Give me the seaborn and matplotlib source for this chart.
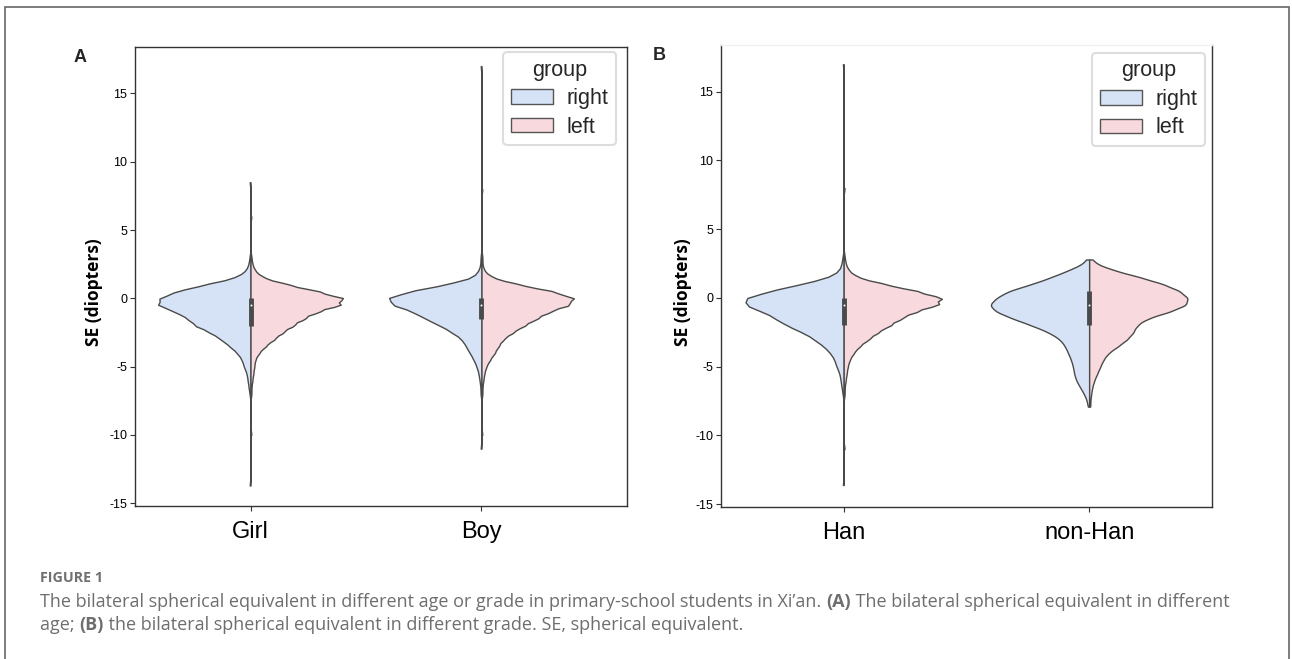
import numpy as np
import pandas as pd
import matplotlib
matplotlib.use("Agg")
import matplotlib.pyplot as plt
import seaborn as sns
from matplotlib.patches import Rectangle, Patch

# SE grid (diopters) and how many eyes sit at each value
se_grid = [-8.0, -7.5, -7.0, -6.5, -6.0, -5.5, -5.0, -4.5, -4.0, -3.5, -3.0, -2.5,
           -2.0, -1.5, -1.0, -0.5, 0.0, 0.5, 1.0, 1.5, 2.0, 2.5, 3.0]

girl_right = [0, 0, 1, 2, 3, 4, 7, 9, 14, 22, 31, 42, 58, 65, 78, 97, 95, 78, 48, 16, 5, 2, 1]
girl_left = [0, 0, 1, 1, 2, 3, 4, 5, 9, 16, 25, 34, 45, 56, 70, 94, 98, 72, 40, 14, 5, 2, 1]
boy_right = [0, 0, 1, 1, 2, 3, 5, 8, 12, 16, 20, 30, 42, 57, 69, 90, 97, 74, 37, 9, 3, 1, 1]
boy_left = [0, 0, 1, 1, 2, 3, 5, 9, 14, 18, 23, 33, 45, 58, 71, 92, 98, 76, 40, 12, 3, 1, 1]
han_right = [0, 0, 1, 2, 3, 4, 7, 9, 13, 20, 29, 40, 56, 66, 79, 97, 96, 72, 42, 14, 4, 2, 1]
han_left = [0, 0, 1, 1, 2, 3, 4, 6, 10, 16, 25, 34, 46, 57, 71, 94, 98, 73, 41, 14, 5, 2, 1]
nonhan_right = [0, 2, 5, 9, 13, 15, 16, 18, 21, 24, 29, 40, 57, 76, 93, 100, 92, 81, 57, 38, 21, 5, 0]
nonhan_left = [0, 1, 2, 3, 5, 8, 11, 14, 19, 29, 38, 44, 47, 57, 80, 97, 98, 90, 74, 51, 25, 6, 0]

# extreme eyes at the ends of the long tails (max, min)
girl_right_ext = [8.5, -13.7]
girl_left_ext = [6.0, -10.0]
boy_right_ext = [17.0, -11.0]
boy_left_ext = [8.0, -10.0]
han_right_ext = [17.0, -13.6]
han_left_ext = [8.0, -11.0]
nonhan_right_ext = [2.8, -7.9]
nonhan_left_ext = [2.8, -7.9]

sex_order = ["Girl", "Boy"]
nation_order = ["Han", "non-Han"]
groups = ["right", "left"]


def build(cat, side, counts, extra):
    vals = np.concatenate([np.repeat(se_grid, counts), extra])
    return pd.DataFrame({"cat": cat, "group": side, "SE": vals})


df_a = pd.concat([
    build("Girl", "right", girl_right, girl_right_ext),
    build("Girl", "left", girl_left, girl_left_ext),
    build("Boy", "right", boy_right, boy_right_ext),
    build("Boy", "left", boy_left, boy_left_ext),
])
df_b = pd.concat([
    build("Han", "right", han_right, han_right_ext),
    build("Han", "left", han_left, han_left_ext),
    build("non-Han", "right", nonhan_right, nonhan_right_ext),
    build("non-Han", "left", nonhan_left, nonhan_left_ext),
])

sns.set_style("ticks")
plt.rcParams['font.family'] = ['Liberation Sans', 'DejaVu Sans']
plt.rcParams['axes.unicode_minus'] = False

palette = {"right": "#d6e3f6", "left": "#f8d9dd"}

fig = plt.figure(figsize=(12.92, 6.59), dpi=100)
ax_a = fig.add_axes([0.1045, 0.2322, 0.3808, 0.6965])
ax_b = fig.add_axes([0.5580, 0.2307, 0.3800, 0.7010])

for ax, df, order in [(ax_a, df_a, sex_order), (ax_b, df_b, nation_order)]:
    sns.violinplot(data=df, x="cat", y="SE", hue="group", order=order, hue_order=groups,
                   split=True, inner=None, palette=palette, saturation=1,
                   linecolor="#4a4a4a", linewidth=1, density_norm="width", cut=0,
                   bw_method=0.15, ax=ax, legend=False)
    # single interquartile bar with median dot in the middle of each split violin
    for i, c in enumerate(order):
        v = df.loc[df["cat"] == c, "SE"]
        q1, med, q3 = np.percentile(v, [25, 50, 75])
        ax.vlines(i, q1, q3, color="#4a4a4a", lw=3.5, zorder=3)
        ax.scatter([i], [med], s=2, color="white", zorder=4, linewidths=0)
    ax.set_ylim(-15.2, 18.4)
    ax.set_yticks([-15, -10, -5, 0, 5, 10, 15])
    ax.set_xlabel("")
    ax.set_ylabel("SE (diopters)", family="Open Sans", fontweight="bold", fontsize=12.5,
                  color="black")
    ax.tick_params(axis="y", labelsize=9, length=3.5, width=0.8, color="#333333", pad=2,
                   labelcolor="black")
    ax.tick_params(axis="x", labelsize=17, length=3.5, width=0.8, color="#333333", pad=7,
                   labelcolor="black")
    for s in ax.spines.values():
        s.set_color("#333333")
        s.set_linewidth(1)
    handles = [Patch(facecolor=palette[g], edgecolor="#555555", linewidth=1, label=g) for g in groups]
    leg = ax.legend(handles=handles, title="group", fontsize=15.5, title_fontsize=15.5,
                    loc="upper right", handlelength=1.95, handleheight=0.65, handletextpad=0.65,
                    labelspacing=0.35, borderpad=0.35, borderaxespad=0, frameon=True,
                    fancybox=True, edgecolor="#dddddd", framealpha=1)
    leg.get_frame().set_linewidth(1.5)

ax_a.set_xlim(-0.5, 1.63)
ax_b.set_xlim(-0.5, 1.5)
ax_a.yaxis.set_label_coords(-0.065, 0.466)
ax_b.yaxis.set_label_coords(-0.059, 0.466)
ax_a.get_legend().set_bbox_to_anchor((0.978, 0.989))
ax_b.get_legend().set_bbox_to_anchor((0.986, 0.983))
ax_b.spines["top"].set_color("#f2f2f2")

fig.text(0.062, 0.9135, "A", fontsize=13, fontweight="bold", ha="center", va="center")
fig.text(0.510, 0.9165, "B", fontsize=13, fontweight="bold", ha="center", va="center")

# outer frame of the figure panel
fig.add_artist(Rectangle((5 / 1292, -0.02), 1284 / 1292, 1 - 7 / 659 + 0.02,
                         transform=fig.transFigure, fill=False, edgecolor="#666666", lw=1.2))

# caption
cap_color = "#6e6e6e"
fig.text(40 / 1292, 1 - 578 / 659, "FIGURE 1", family="Open Sans", fontweight="bold",
         fontsize=10.3, color="#707070", va="center", ha="left")

renderer = fig.canvas.get_renderer()


def rich_line(x, y, parts, size=13):
    for txt, weight in parts:
        t = fig.text(x, y, txt, family="Open Sans", fontweight=weight, fontsize=size,
                     color=cap_color, va="center", ha="left")
        bb = t.get_window_extent(renderer)
        x += bb.width / fig.bbox.width


rich_line(40 / 1292, 1 - 602 / 659, [
    ("The bilateral spherical equivalent in different age or grade in primary-school students in Xi\u2019an. ", "normal"),
    ("(A)", "bold"),
    (" The bilateral spherical equivalent in different", "normal"),
])
rich_line(40 / 1292, 1 - 625 / 659, [
    ("age; ", "normal"),
    ("(B)", "bold"),
    (" the bilateral spherical equivalent in different grade. SE, spherical equivalent.", "normal"),
])

fig.savefig("out.png", dpi=100)
